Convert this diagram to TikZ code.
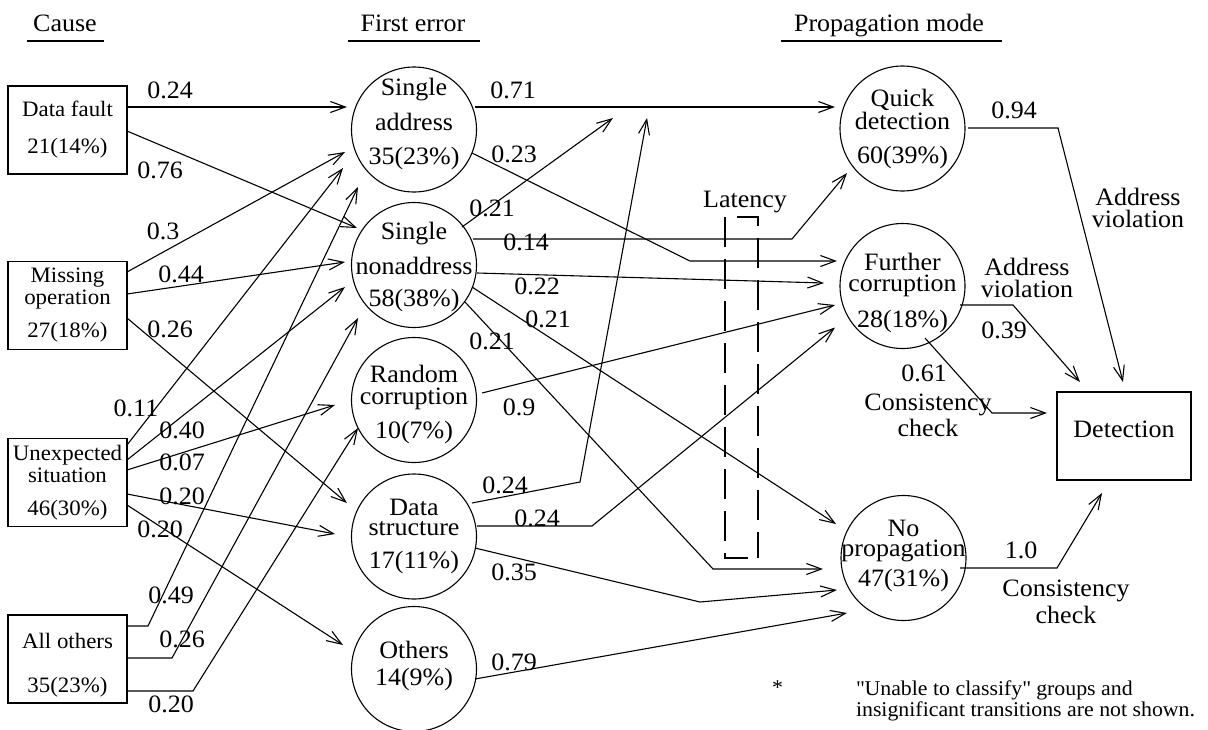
\documentclass[tikz,border=0pt]{standalone}
\usepackage{fontspec}
\setmainfont{Liberation Serif}[FakeStretch=1.04]
\usetikzlibrary{arrows.meta,calc}

\begin{document}
\begin{tikzpicture}[x=1pt,y=-1pt,
  line width=1.1pt,
  every node/.style={inner sep=0pt, outer sep=0pt},
  cause/.style={draw, rectangle, minimum width=119pt, minimum height=88pt,
    align=center, font=\fontsize{22}{21}\selectfont},
  state/.style={draw, circle, minimum size=125pt},
  ctext/.style={align=center, font=\fontsize{25}{21}\selectfont},
  prob/.style={font=\fontsize{25}{21}\selectfont},
  note/.style={align=center, font=\fontsize{25}{21}\selectfont},
  small/.style={font=\fontsize{21}{21}\selectfont},
  flow/.style={-{Straight Barb[length=15pt,width=11pt]}},
  latency/.style={dash pattern=on 30pt off 12pt},
]
\useasboundingbox (0,0) rectangle (1208,729);

% column headings
\node[prob, anchor=base] (h-cause) at (65,31) {Cause};
\node[prob, anchor=base] (h-first) at (413,31) {First error};
\node[prob, anchor=base] (h-prop) at (889,31) {Propagation mode};
\draw (27,41) -- (104,41);
\draw (348,41) -- (480,41);
\draw (781,41) -- (1002,41);

% causes
\node[cause] (df) at (67.5,130) {Data fault\\[16pt]21(14\%)};
\node[cause] (mo) at (67.5,305.5) {Missing\\[1pt]operation\\[12pt]27(18\%)};
\node[cause] (us) at (67.5,482.5) {Unexpected\\[1pt]situation\\[12pt]46(30\%)};
\node[cause] (ao) at (67.5,659) {\rule{0pt}{27pt}All others\\[23pt]35(23\%)};

% first errors
\node[state] (sa) at (414,129.5) {};
\node[ctext] (sa-t) at (414,124) {Single\\[12pt]address\\[13pt]35(23\%)};
\node[state] (sn) at (414,265) {};
\node[ctext] (sn-t) at (414,267) {Single\\[12pt]nonaddress\\[11pt]58(38\%)};
\node[state] (rc) at (414,400) {};
\node[ctext] (rc-t) at (414,404.5) {Random\\[1pt]corruption\\[11pt]10(7\%)};
\node[state] (ds) at (414,536.5) {};
\node[ctext] (ds-t) at (414,536) {Data\\[-1pt]structure\\[12pt]17(11\%)};
\node[state] (ot) at (414,669) {};
\node[ctext] (ot-t) at (414,666) {Others\\[6pt]14(9\%)};

% propagation modes
\node[state] (qd) at (902.5,128.5) {};
\node[ctext] (qd-t) at (902.5,129) {Quick\\detection\\[13pt]60(39\%)};
\node[state] (fc) at (902.5,286) {};
\node[ctext] (fc-t) at (902.5,293) {Further\\corruption\\[13pt]28(18\%)};
\node[state] (np) at (903.5,558) {};
\node[ctext] (np-t) at (903.5,556) {No\\[-1pt]propagation\\[6pt]47(31\%)};

% final outcome
\node[draw, minimum width=134pt, minimum height=88pt, prob,
  text height=9pt, text depth=7pt] (det) at (1124,436) {Detection};

% merge points on the quick-detection line
\coordinate (j1) at (613,118);
\coordinate (j2) at (647,118);

% cause -> first error
\draw[flow] ($(df.east)+(0,-23)$) -- ($(sa)+(-67,-22.5)$);
\draw[flow] ($(df.east)+(0,1)$) -- ($(sn)+(-57,-37)$);
\draw[flow] ($(mo.east)+(0,-33.5)$) -- ($(sa)+(-69,22.5)$);
\draw[flow] ($(mo.east)+(0,-11.5)$) -- ($(sn)+(-69,-3)$);
\draw[flow] ($(mo.east)+(0,12.5)$) -- ($(ds)+(-67,-33.5)$);
\draw[flow] ($(us.east)+(0,-37.5)$) -- ($(sa)+(-71,38.5)$);
\draw[flow] ($(us.east)+(0,-22.5)$) -- ($(sn)+(-69,22)$);
\draw[flow] ($(us.east)+(0,-12.5)$) -- ($(rc)+(-79,5)$);
\draw[flow] ($(us.east)+(0,11.5)$) -- ($(ds)+(-79,-2.5)$);
\draw[flow] ($(us.east)+(0,22.5)$) -- ($(ot)+(-71,-24)$);
\draw[flow] ($(ao.east)+(0,-33)$) -- ++(21,0) -- ($(sa)+(-56,57.5)$);
\draw[flow] ($(ao.east)+(0,-1)$) -- ++(45,0) -- ($(sn)+(-56,53)$);
\draw[flow] ($(ao.east)+(0,32)$) -- ++(66,0) -- ($(rc)+(-56,28)$);

% first error -> propagation mode
\draw[flow] ($(sa)+(61,-22.5)$) -- ($(qd)+(-67.5,-21.5)$);
\draw[flow] ($(sa)+(58,23.5)$) -- (690,261) -- ($(fc)+(-65.5,-25)$);
\draw[flow] ($(sn)+(48,-38)$) -- (j1);
\draw[flow] ($(sn)+(59,-26)$) -- (792,239) -- ($(qd)+(-55.5,44.5)$);
\draw[flow] ($(sn)+(63,8)$) -- ($(fc)+(-78.5,-3)$);
\draw[flow] ($(sn)+(58,22)$) -- ($(np)+(-67.5,-34)$);
\draw[flow] ($(sn)+(51,37)$) -- (713,569) -- ($(np)+(-80.5,11)$);
\draw[flow] ($(rc)+(68,-7)$) -- ($(fc)+(-67.5,19)$);
\draw[flow] ($(ds)+(58,-33.5)$) -- (580,482) -- (j2);
\draw[flow] ($(ds)+(63,-10.5)$) -- (592,526) -- ($(fc)+(-67.5,41.5)$);
\draw[flow] ($(ds)+(61,11.5)$) -- (700,602) -- ($(np)+(-66.5,32)$);
\draw[flow] ($(ot)+(61,10)$) -- ($(np)+(-56.5,55)$);

% propagation mode -> detection
\draw[flow] ($(qd)+(65.5,-0.5)$) -- (1058,128) -- ($(det)+(-1,-54)$);
\draw[flow] ($(fc)+(57.5,19)$) -- (1013,305) -- ($(det)+(-44,-54)$);
\draw[flow] ($(fc)+(22.5,52)$) -- (992,413) -- ($(det)+(-77,-23)$);
\draw[flow] ($(np)+(56.5,10)$) -- (1057,568) -- ($(det)+(-22,57)$);

% latency bracket
\draw[latency] (725,217) -- (725,558) -- (748,558);
\draw[latency] (737,217) -- (758,217) -- (758,558);
\node[prob, anchor=base] (lat) at (745,207) {Latency};

% transition probabilities
\node[prob] (l-df-sa) at (170,90) {0.24};
\node[prob] (l-df-sn) at (160,170) {0.76};
\node[prob] (l-mo-sa) at (163,231) {0.3};
\node[prob] (l-mo-sn) at (181,274) {0.44};
\node[prob] (l-mo-ds) at (170,329) {0.26};
\node[prob] (l-us-sa) at (136,408) {0.11};
\node[prob] (l-us-sn) at (182,430) {0.40};
\node[prob] (l-us-rc) at (182,462) {0.07};
\node[prob] (l-us-ds) at (182,496) {0.20};
\node[prob] (l-us-ot) at (160,529) {0.20};
\node[prob] (l-ao-sa) at (171,595) {0.49};
\node[prob] (l-ao-sn) at (182,639) {0.26};
\node[prob] (l-ao-rc) at (171,704) {0.20};
\node[prob] (l-sa-qd) at (513,90) {0.71};
\node[prob] (l-sa-fc) at (514,154) {0.23};
\node[prob] (l-sn-up) at (492,208) {0.21};
\node[prob] (l-sn-qd) at (526,242) {0.14};
\node[prob] (l-sn-fc) at (537,286) {0.22};
\node[prob] (l-sn-np) at (548,319) {0.21};
\node[prob] (l-sn-np2) at (492,341) {0.21};
\node[prob] (l-rc-fc) at (519,407) {0.9};
\node[prob] (l-ds-up) at (505,485) {0.24};
\node[prob] (l-ds-fc) at (537,518) {0.24};
\node[prob] (l-ds-np) at (514,572) {0.35};
\node[prob] (l-ot-np) at (514,662) {0.79};
\node[prob] (l-qd-det) at (1014,110) {0.94};
\node[prob] (l-fc-det1) at (1004,330) {0.39};
\node[prob] (l-fc-det2) at (924,373) {0.61};
\node[prob] (l-np-det) at (1021,550) {1.0};

% detection mechanisms
\node[note] (av1) at (1138,208) {Address\\[1pt]violation};
\node[note] (av2) at (1027,278) {Address\\[1pt]violation};
\node[note] (cc1) at (928,415) {Consistency\\[2pt]check};
\node[note] (cc2) at (1066,602) {Consistency\\[3pt]check};

% footnote
\node[small, anchor=base west] (fn-star) at (772,694) {*};
\node[small, align=left, anchor=north west] (fn) at (856,681)
  {\textquotedbl Unable to classify\textquotedbl{} groups and\\insignificant transitions are not shown.};
\end{tikzpicture}
\end{document}
